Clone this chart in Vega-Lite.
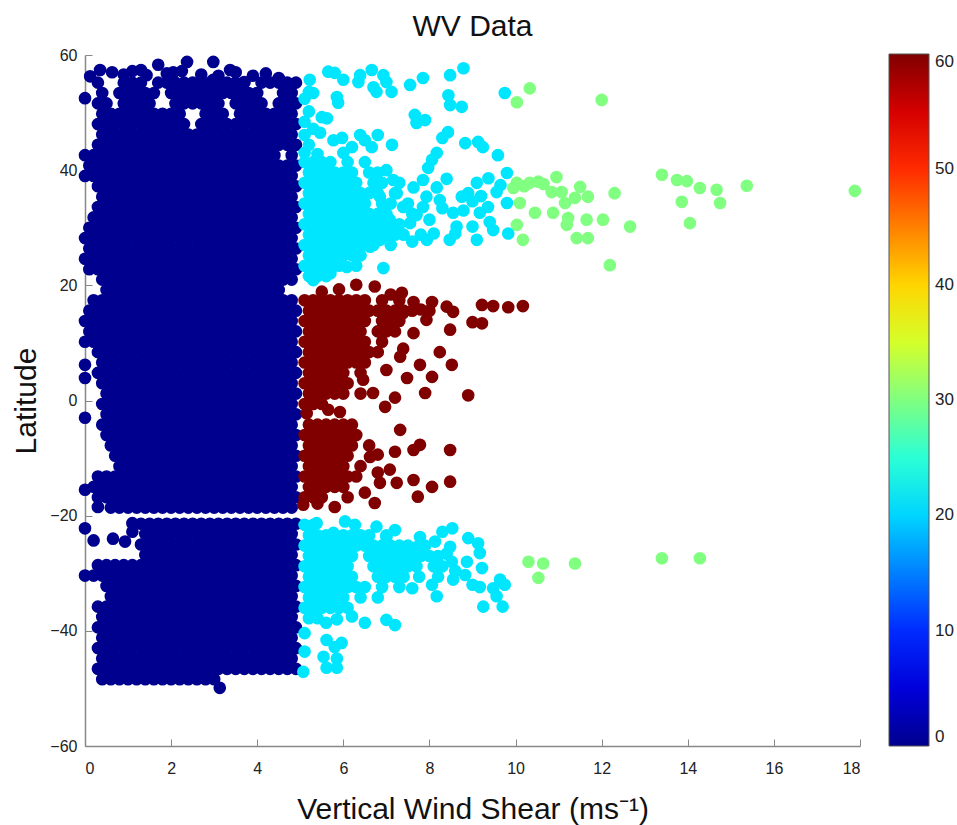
{
"$schema": "https://vega.github.io/schema/vega-lite/v6.json",
"width": 775,
"height": 691,
"autosize": {"type": "none"},
"padding": {"left": 85, "top": 55, "right": 97, "bottom": 79},
"background": "white",
"title": {"text": "WV Data", "fontSize": 30, "font": "Liberation Sans", "fontWeight": "normal", "color": "#111111", "offset": 5, "frame": "group"},
"config": {
  "view": {"stroke": null},
  "axis": {"domainColor": "#888888", "domainWidth": 1.5, "tickColor": "#888888", "tickSize": -7, "labelFont": "Liberation Sans", "labelFontSize": 16, "labelColor": "#222222", "titleFont": "Liberation Sans", "titleFontSize": 30, "titleFontWeight": "normal", "titleColor": "#111111", "grid": false}
},
"data": {"values": [
{"x":0.35,"y":57.4,"c":0},{"x":0.63,"y":57,"c":0},{"x":1.1,"y":57.2,"c":0},{"x":1.43,"y":56.5,"c":0},{"x":1.7,"y":58.3,"c":0},{"x":2.05,"y":57,"c":0},{"x":2.37,"y":58.8,"c":0},{"x":2.98,"y":58.8,"c":0},{"x":3.37,"y":57.4,"c":0},{"x":3.5,"y":57,"c":0},{"x":4.2,"y":56.8,"c":0},{"x":4.5,"y":56,"c":0},{"x":0.12,"y":56.3,"c":0},{"x":0.9,"y":56.6,"c":0},{"x":1.3,"y":57.4,"c":0},{"x":2.7,"y":56.6,"c":0},{"x":3.9,"y":56.4,"c":0},{"x":2.25,"y":57.2,"c":0},{"x":3.1,"y":56.4,"c":0},{"x":1.9,"y":56.8,"c":0},{"x":2.98,"y":55.7,"c":0},{"x":3.7,"y":55.3,"c":0},{"x":4.8,"y":54.8,"c":0},{"x":0,"y":52.5,"c":0},
{"x":0,"y":6.2,"c":0},{"x":0,"y":3.9,"c":0},{"x":0,"y":-3,"c":0},{"x":0,"y":-15.5,"c":0},{"x":0.3,"y":-18.5,"c":0},
{"x":0,"y":-22.2,"c":0},{"x":0.2,"y":-24.3,"c":0},{"x":0.65,"y":-24,"c":0},{"x":0.93,"y":-24.5,"c":0},{"x":1.1,"y":-22.8,"c":0},{"x":1.1,"y":-21.3,"c":0},{"x":3.13,"y":-49.9,"c":0},
{"x":0.3,"y":55.2,"c":0},{"x":0.9,"y":55.2,"c":0},{"x":1.1,"y":55.2,"c":0},{"x":1.3,"y":55.2,"c":0},{"x":1.7,"y":55.2,"c":0},{"x":1.9,"y":55.2,"c":0},{"x":2.1,"y":55.2,"c":0},{"x":2.3,"y":55.2,"c":0},{"x":2.5,"y":55.2,"c":0},{"x":2.7,"y":55.2,"c":0},{"x":2.9,"y":55.2,"c":0},{"x":3.1,"y":55.2,"c":0},{"x":3.3,"y":55.2,"c":0},{"x":3.5,"y":55.2,"c":0},{"x":3.7,"y":55.2,"c":0},{"x":4.1,"y":55.2,"c":0},{"x":4.3,"y":55.2,"c":0},{"x":4.5,"y":55.2,"c":0},{"x":4.7,"y":55.2,"c":0},{"x":4.9,"y":55.2,"c":0},
{"x":0.4,"y":53.4,"c":0},{"x":0.8,"y":53.4,"c":0},{"x":1,"y":53.4,"c":0},{"x":1.2,"y":53.4,"c":0},{"x":1.4,"y":53.4,"c":0},{"x":1.6,"y":53.4,"c":0},{"x":2,"y":53.4,"c":0},{"x":2.2,"y":53.4,"c":0},{"x":2.4,"y":53.4,"c":0},{"x":2.6,"y":53.4,"c":0},{"x":2.8,"y":53.4,"c":0},{"x":3,"y":53.4,"c":0},{"x":3.2,"y":53.4,"c":0},{"x":3.4,"y":53.4,"c":0},{"x":3.6,"y":53.4,"c":0},{"x":3.8,"y":53.4,"c":0},{"x":4,"y":53.4,"c":0},{"x":4.6,"y":53.4,"c":0},{"x":4.8,"y":53.4,"c":0},
{"x":0.3,"y":51.6,"c":0},{"x":0.5,"y":51.6,"c":0},{"x":0.9,"y":51.6,"c":0},{"x":1.1,"y":51.6,"c":0},{"x":1.3,"y":51.6,"c":0},{"x":1.5,"y":51.6,"c":0},{"x":2.1,"y":51.6,"c":0},{"x":2.3,"y":51.6,"c":0},{"x":2.5,"y":51.6,"c":0},{"x":2.7,"y":51.6,"c":0},{"x":2.9,"y":51.6,"c":0},{"x":3.1,"y":51.6,"c":0},{"x":3.5,"y":51.6,"c":0},{"x":3.7,"y":51.6,"c":0},{"x":3.9,"y":51.6,"c":0},{"x":4.1,"y":51.6,"c":0},{"x":4.5,"y":51.6,"c":0},{"x":4.7,"y":51.6,"c":0},{"x":4.9,"y":51.6,"c":0},
{"x":0.4,"y":49.8,"c":0},{"x":0.6,"y":49.8,"c":0},{"x":0.8,"y":49.8,"c":0},{"x":1,"y":49.8,"c":0},{"x":1.2,"y":49.8,"c":0},{"x":1.4,"y":49.8,"c":0},{"x":1.6,"y":49.8,"c":0},{"x":1.8,"y":49.8,"c":0},{"x":2,"y":49.8,"c":0},{"x":2.2,"y":49.8,"c":0},{"x":2.8,"y":49.8,"c":0},{"x":3,"y":49.8,"c":0},{"x":3.2,"y":49.8,"c":0},{"x":3.6,"y":49.8,"c":0},{"x":3.8,"y":49.8,"c":0},{"x":4,"y":49.8,"c":0},{"x":4.2,"y":49.8,"c":0},{"x":4.4,"y":49.8,"c":0},{"x":4.6,"y":49.8,"c":0},{"x":4.8,"y":49.8,"c":0},
{"x":0.3,"y":48,"c":0},{"x":0.5,"y":48,"c":0},{"x":0.7,"y":48,"c":0},{"x":0.9,"y":48,"c":0},{"x":1.1,"y":48,"c":0},{"x":1.3,"y":48,"c":0},{"x":1.5,"y":48,"c":0},{"x":1.7,"y":48,"c":0},{"x":1.9,"y":48,"c":0},{"x":2.1,"y":48,"c":0},{"x":2.3,"y":48,"c":0},{"x":2.7,"y":48,"c":0},{"x":2.9,"y":48,"c":0},{"x":3.1,"y":48,"c":0},{"x":3.3,"y":48,"c":0},{"x":3.5,"y":48,"c":0},{"x":3.7,"y":48,"c":0},{"x":3.9,"y":48,"c":0},{"x":4.1,"y":48,"c":0},{"x":4.3,"y":48,"c":0},{"x":4.5,"y":48,"c":0},{"x":4.7,"y":48,"c":0},{"x":4.9,"y":48,"c":0},
{"x":0.4,"y":46.2,"c":0},{"x":0.6,"y":46.2,"c":0},{"x":0.8,"y":46.2,"c":0},{"x":1,"y":46.2,"c":0},{"x":1.2,"y":46.2,"c":0},{"x":1.4,"y":46.2,"c":0},{"x":1.6,"y":46.2,"c":0},{"x":1.8,"y":46.2,"c":0},{"x":2,"y":46.2,"c":0},{"x":2.2,"y":46.2,"c":0},{"x":2.4,"y":46.2,"c":0},{"x":2.6,"y":46.2,"c":0},{"x":2.8,"y":46.2,"c":0},{"x":3,"y":46.2,"c":0},{"x":3.2,"y":46.2,"c":0},{"x":3.4,"y":46.2,"c":0},{"x":3.6,"y":46.2,"c":0},{"x":3.8,"y":46.2,"c":0},{"x":4,"y":46.2,"c":0},{"x":4.2,"y":46.2,"c":0},{"x":4.4,"y":46.2,"c":0},{"x":4.6,"y":46.2,"c":0},{"x":4.8,"y":46.2,"c":0},
{"x":0.3,"y":44.4,"c":0},{"x":0.5,"y":44.4,"c":0},{"x":0.7,"y":44.4,"c":0},{"x":0.9,"y":44.4,"c":0},{"x":1.1,"y":44.4,"c":0},{"x":1.3,"y":44.4,"c":0},{"x":1.5,"y":44.4,"c":0},{"x":1.7,"y":44.4,"c":0},{"x":1.9,"y":44.4,"c":0},{"x":2.1,"y":44.4,"c":0},{"x":2.3,"y":44.4,"c":0},{"x":2.5,"y":44.4,"c":0},{"x":2.7,"y":44.4,"c":0},{"x":2.9,"y":44.4,"c":0},{"x":3.1,"y":44.4,"c":0},{"x":3.3,"y":44.4,"c":0},{"x":3.5,"y":44.4,"c":0},{"x":3.7,"y":44.4,"c":0},{"x":3.9,"y":44.4,"c":0},{"x":4.1,"y":44.4,"c":0},{"x":4.3,"y":44.4,"c":0},{"x":4.5,"y":44.4,"c":0},{"x":4.7,"y":44.4,"c":0},{"x":4.9,"y":44.4,"c":0},
{"x":0,"y":42.6,"c":0},{"x":0.2,"y":42.6,"c":0},{"x":0.4,"y":42.6,"c":0},{"x":0.6,"y":42.6,"c":0},{"x":0.8,"y":42.6,"c":0},{"x":1,"y":42.6,"c":0},{"x":1.2,"y":42.6,"c":0},{"x":1.4,"y":42.6,"c":0},{"x":1.6,"y":42.6,"c":0},{"x":1.8,"y":42.6,"c":0},{"x":2,"y":42.6,"c":0},{"x":2.2,"y":42.6,"c":0},{"x":2.4,"y":42.6,"c":0},{"x":2.6,"y":42.6,"c":0},{"x":2.8,"y":42.6,"c":0},{"x":3,"y":42.6,"c":0},{"x":3.2,"y":42.6,"c":0},{"x":3.4,"y":42.6,"c":0},{"x":3.6,"y":42.6,"c":0},{"x":3.8,"y":42.6,"c":0},{"x":4,"y":42.6,"c":0},{"x":4.2,"y":42.6,"c":0},{"x":4.4,"y":42.6,"c":0},{"x":4.8,"y":42.6,"c":0},
{"x":0.1,"y":40.8,"c":0},{"x":0.3,"y":40.8,"c":0},{"x":0.5,"y":40.8,"c":0},{"x":0.7,"y":40.8,"c":0},{"x":0.9,"y":40.8,"c":0},{"x":1.1,"y":40.8,"c":0},{"x":1.3,"y":40.8,"c":0},{"x":1.5,"y":40.8,"c":0},{"x":1.7,"y":40.8,"c":0},{"x":1.9,"y":40.8,"c":0},{"x":2.1,"y":40.8,"c":0},{"x":2.3,"y":40.8,"c":0},{"x":2.5,"y":40.8,"c":0},{"x":2.7,"y":40.8,"c":0},{"x":2.9,"y":40.8,"c":0},{"x":3.1,"y":40.8,"c":0},{"x":3.3,"y":40.8,"c":0},{"x":3.5,"y":40.8,"c":0},{"x":3.7,"y":40.8,"c":0},{"x":3.9,"y":40.8,"c":0},{"x":4.1,"y":40.8,"c":0},{"x":4.3,"y":40.8,"c":0},{"x":4.5,"y":40.8,"c":0},{"x":4.7,"y":40.8,"c":0},{"x":4.9,"y":40.8,"c":0},
{"x":0,"y":39,"c":0},{"x":0.2,"y":39,"c":0},{"x":0.4,"y":39,"c":0},{"x":0.6,"y":39,"c":0},{"x":0.8,"y":39,"c":0},{"x":1,"y":39,"c":0},{"x":1.2,"y":39,"c":0},{"x":1.4,"y":39,"c":0},{"x":1.6,"y":39,"c":0},{"x":1.8,"y":39,"c":0},{"x":2,"y":39,"c":0},{"x":2.2,"y":39,"c":0},{"x":2.4,"y":39,"c":0},{"x":2.6,"y":39,"c":0},{"x":2.8,"y":39,"c":0},{"x":3,"y":39,"c":0},{"x":3.2,"y":39,"c":0},{"x":3.4,"y":39,"c":0},{"x":3.6,"y":39,"c":0},{"x":3.8,"y":39,"c":0},{"x":4,"y":39,"c":0},{"x":4.2,"y":39,"c":0},{"x":4.4,"y":39,"c":0},{"x":4.6,"y":39,"c":0},{"x":4.8,"y":39,"c":0},
{"x":0.3,"y":37.2,"c":0},{"x":0.5,"y":37.2,"c":0},{"x":0.7,"y":37.2,"c":0},{"x":0.9,"y":37.2,"c":0},{"x":1.1,"y":37.2,"c":0},{"x":1.3,"y":37.2,"c":0},{"x":1.5,"y":37.2,"c":0},{"x":1.7,"y":37.2,"c":0},{"x":1.9,"y":37.2,"c":0},{"x":2.1,"y":37.2,"c":0},{"x":2.3,"y":37.2,"c":0},{"x":2.5,"y":37.2,"c":0},{"x":2.7,"y":37.2,"c":0},{"x":2.9,"y":37.2,"c":0},{"x":3.1,"y":37.2,"c":0},{"x":3.3,"y":37.2,"c":0},{"x":3.5,"y":37.2,"c":0},{"x":3.7,"y":37.2,"c":0},{"x":3.9,"y":37.2,"c":0},{"x":4.1,"y":37.2,"c":0},{"x":4.3,"y":37.2,"c":0},{"x":4.5,"y":37.2,"c":0},{"x":4.7,"y":37.2,"c":0},{"x":4.9,"y":37.2,"c":0},
{"x":0.4,"y":35.4,"c":0},{"x":0.6,"y":35.4,"c":0},{"x":0.8,"y":35.4,"c":0},{"x":1,"y":35.4,"c":0},{"x":1.2,"y":35.4,"c":0},{"x":1.4,"y":35.4,"c":0},{"x":1.6,"y":35.4,"c":0},{"x":1.8,"y":35.4,"c":0},{"x":2,"y":35.4,"c":0},{"x":2.2,"y":35.4,"c":0},{"x":2.4,"y":35.4,"c":0},{"x":2.6,"y":35.4,"c":0},{"x":2.8,"y":35.4,"c":0},{"x":3,"y":35.4,"c":0},{"x":3.2,"y":35.4,"c":0},{"x":3.4,"y":35.4,"c":0},{"x":3.6,"y":35.4,"c":0},{"x":3.8,"y":35.4,"c":0},{"x":4,"y":35.4,"c":0},{"x":4.2,"y":35.4,"c":0},{"x":4.4,"y":35.4,"c":0},{"x":4.6,"y":35.4,"c":0},{"x":4.8,"y":35.4,"c":0},
{"x":0.3,"y":33.6,"c":0},{"x":0.5,"y":33.6,"c":0},{"x":0.7,"y":33.6,"c":0},{"x":0.9,"y":33.6,"c":0},{"x":1.1,"y":33.6,"c":0},{"x":1.3,"y":33.6,"c":0},{"x":1.5,"y":33.6,"c":0},{"x":1.7,"y":33.6,"c":0},{"x":1.9,"y":33.6,"c":0},{"x":2.1,"y":33.6,"c":0},{"x":2.3,"y":33.6,"c":0},{"x":2.5,"y":33.6,"c":0},{"x":2.7,"y":33.6,"c":0},{"x":2.9,"y":33.6,"c":0},{"x":3.1,"y":33.6,"c":0},{"x":3.3,"y":33.6,"c":0},{"x":3.5,"y":33.6,"c":0},{"x":3.7,"y":33.6,"c":0},{"x":3.9,"y":33.6,"c":0},{"x":4.1,"y":33.6,"c":0},{"x":4.3,"y":33.6,"c":0},{"x":4.5,"y":33.6,"c":0},{"x":4.7,"y":33.6,"c":0},{"x":4.9,"y":33.6,"c":0},
{"x":0.2,"y":31.8,"c":0},{"x":0.4,"y":31.8,"c":0},{"x":0.6,"y":31.8,"c":0},{"x":0.8,"y":31.8,"c":0},{"x":1,"y":31.8,"c":0},{"x":1.2,"y":31.8,"c":0},{"x":1.4,"y":31.8,"c":0},{"x":1.6,"y":31.8,"c":0},{"x":1.8,"y":31.8,"c":0},{"x":2,"y":31.8,"c":0},{"x":2.2,"y":31.8,"c":0},{"x":2.4,"y":31.8,"c":0},{"x":2.6,"y":31.8,"c":0},{"x":2.8,"y":31.8,"c":0},{"x":3,"y":31.8,"c":0},{"x":3.2,"y":31.8,"c":0},{"x":3.4,"y":31.8,"c":0},{"x":3.6,"y":31.8,"c":0},{"x":3.8,"y":31.8,"c":0},{"x":4,"y":31.8,"c":0},{"x":4.2,"y":31.8,"c":0},{"x":4.4,"y":31.8,"c":0},{"x":4.6,"y":31.8,"c":0},{"x":4.8,"y":31.8,"c":0},
{"x":0.1,"y":30,"c":0},{"x":0.3,"y":30,"c":0},{"x":0.5,"y":30,"c":0},{"x":0.7,"y":30,"c":0},{"x":0.9,"y":30,"c":0},{"x":1.1,"y":30,"c":0},{"x":1.3,"y":30,"c":0},{"x":1.5,"y":30,"c":0},{"x":1.7,"y":30,"c":0},{"x":1.9,"y":30,"c":0},{"x":2.1,"y":30,"c":0},{"x":2.3,"y":30,"c":0},{"x":2.5,"y":30,"c":0},{"x":2.7,"y":30,"c":0},{"x":2.9,"y":30,"c":0},{"x":3.1,"y":30,"c":0},{"x":3.3,"y":30,"c":0},{"x":3.5,"y":30,"c":0},{"x":3.7,"y":30,"c":0},{"x":3.9,"y":30,"c":0},{"x":4.1,"y":30,"c":0},{"x":4.3,"y":30,"c":0},{"x":4.5,"y":30,"c":0},{"x":4.7,"y":30,"c":0},{"x":4.9,"y":30,"c":0},
{"x":0,"y":28.2,"c":0},{"x":0.2,"y":28.2,"c":0},{"x":0.4,"y":28.2,"c":0},{"x":0.6,"y":28.2,"c":0},{"x":0.8,"y":28.2,"c":0},{"x":1,"y":28.2,"c":0},{"x":1.2,"y":28.2,"c":0},{"x":1.4,"y":28.2,"c":0},{"x":1.6,"y":28.2,"c":0},{"x":1.8,"y":28.2,"c":0},{"x":2,"y":28.2,"c":0},{"x":2.2,"y":28.2,"c":0},{"x":2.4,"y":28.2,"c":0},{"x":2.6,"y":28.2,"c":0},{"x":2.8,"y":28.2,"c":0},{"x":3,"y":28.2,"c":0},{"x":3.2,"y":28.2,"c":0},{"x":3.4,"y":28.2,"c":0},{"x":3.6,"y":28.2,"c":0},{"x":3.8,"y":28.2,"c":0},{"x":4,"y":28.2,"c":0},{"x":4.2,"y":28.2,"c":0},{"x":4.4,"y":28.2,"c":0},{"x":4.6,"y":28.2,"c":0},{"x":4.8,"y":28.2,"c":0},
{"x":0.1,"y":26.4,"c":0},{"x":0.3,"y":26.4,"c":0},{"x":0.5,"y":26.4,"c":0},{"x":0.7,"y":26.4,"c":0},{"x":0.9,"y":26.4,"c":0},{"x":1.1,"y":26.4,"c":0},{"x":1.3,"y":26.4,"c":0},{"x":1.5,"y":26.4,"c":0},{"x":1.7,"y":26.4,"c":0},{"x":1.9,"y":26.4,"c":0},{"x":2.1,"y":26.4,"c":0},{"x":2.3,"y":26.4,"c":0},{"x":2.5,"y":26.4,"c":0},{"x":2.7,"y":26.4,"c":0},{"x":2.9,"y":26.4,"c":0},{"x":3.1,"y":26.4,"c":0},{"x":3.3,"y":26.4,"c":0},{"x":3.5,"y":26.4,"c":0},{"x":3.7,"y":26.4,"c":0},{"x":3.9,"y":26.4,"c":0},{"x":4.1,"y":26.4,"c":0},{"x":4.3,"y":26.4,"c":0},{"x":4.5,"y":26.4,"c":0},{"x":4.7,"y":26.4,"c":0},{"x":4.9,"y":26.4,"c":0},
{"x":0,"y":24.6,"c":0},{"x":0.2,"y":24.6,"c":0},{"x":0.4,"y":24.6,"c":0},{"x":0.6,"y":24.6,"c":0},{"x":0.8,"y":24.6,"c":0},{"x":1,"y":24.6,"c":0},{"x":1.2,"y":24.6,"c":0},{"x":1.4,"y":24.6,"c":0},{"x":1.6,"y":24.6,"c":0},{"x":1.8,"y":24.6,"c":0},{"x":2,"y":24.6,"c":0},{"x":2.2,"y":24.6,"c":0},{"x":2.4,"y":24.6,"c":0},{"x":2.6,"y":24.6,"c":0},{"x":2.8,"y":24.6,"c":0},{"x":3,"y":24.6,"c":0},{"x":3.2,"y":24.6,"c":0},{"x":3.4,"y":24.6,"c":0},{"x":3.6,"y":24.6,"c":0},{"x":3.8,"y":24.6,"c":0},{"x":4,"y":24.6,"c":0},{"x":4.2,"y":24.6,"c":0},{"x":4.4,"y":24.6,"c":0},{"x":4.6,"y":24.6,"c":0},{"x":4.8,"y":24.6,"c":0},
{"x":0.1,"y":22.8,"c":0},{"x":0.3,"y":22.8,"c":0},{"x":0.5,"y":22.8,"c":0},{"x":0.7,"y":22.8,"c":0},{"x":0.9,"y":22.8,"c":0},{"x":1.1,"y":22.8,"c":0},{"x":1.3,"y":22.8,"c":0},{"x":1.5,"y":22.8,"c":0},{"x":1.7,"y":22.8,"c":0},{"x":1.9,"y":22.8,"c":0},{"x":2.1,"y":22.8,"c":0},{"x":2.3,"y":22.8,"c":0},{"x":2.5,"y":22.8,"c":0},{"x":2.7,"y":22.8,"c":0},{"x":2.9,"y":22.8,"c":0},{"x":3.1,"y":22.8,"c":0},{"x":3.3,"y":22.8,"c":0},{"x":3.5,"y":22.8,"c":0},{"x":3.7,"y":22.8,"c":0},{"x":3.9,"y":22.8,"c":0},{"x":4.1,"y":22.8,"c":0},{"x":4.3,"y":22.8,"c":0},{"x":4.5,"y":22.8,"c":0},{"x":4.7,"y":22.8,"c":0},{"x":4.9,"y":22.8,"c":0},
{"x":0.4,"y":21,"c":0},{"x":0.6,"y":21,"c":0},{"x":0.8,"y":21,"c":0},{"x":1,"y":21,"c":0},{"x":1.2,"y":21,"c":0},{"x":1.4,"y":21,"c":0},{"x":1.6,"y":21,"c":0},{"x":1.8,"y":21,"c":0},{"x":2,"y":21,"c":0},{"x":2.2,"y":21,"c":0},{"x":2.4,"y":21,"c":0},{"x":2.6,"y":21,"c":0},{"x":2.8,"y":21,"c":0},{"x":3,"y":21,"c":0},{"x":3.2,"y":21,"c":0},{"x":3.4,"y":21,"c":0},{"x":3.6,"y":21,"c":0},{"x":3.8,"y":21,"c":0},{"x":4,"y":21,"c":0},{"x":4.2,"y":21,"c":0},{"x":4.4,"y":21,"c":0},{"x":4.6,"y":21,"c":0},{"x":4.8,"y":21,"c":0},
{"x":0.5,"y":19.2,"c":0},{"x":0.7,"y":19.2,"c":0},{"x":0.9,"y":19.2,"c":0},{"x":1.1,"y":19.2,"c":0},{"x":1.3,"y":19.2,"c":0},{"x":1.5,"y":19.2,"c":0},{"x":1.7,"y":19.2,"c":0},{"x":1.9,"y":19.2,"c":0},{"x":2.1,"y":19.2,"c":0},{"x":2.3,"y":19.2,"c":0},{"x":2.5,"y":19.2,"c":0},{"x":2.7,"y":19.2,"c":0},{"x":2.9,"y":19.2,"c":0},{"x":3.1,"y":19.2,"c":0},{"x":3.3,"y":19.2,"c":0},{"x":3.5,"y":19.2,"c":0},{"x":3.7,"y":19.2,"c":0},{"x":3.9,"y":19.2,"c":0},{"x":4.1,"y":19.2,"c":0},{"x":4.3,"y":19.2,"c":0},{"x":4.5,"y":19.2,"c":0},
{"x":0.2,"y":17.4,"c":0},{"x":0.4,"y":17.4,"c":0},{"x":0.6,"y":17.4,"c":0},{"x":0.8,"y":17.4,"c":0},{"x":1,"y":17.4,"c":0},{"x":1.2,"y":17.4,"c":0},{"x":1.4,"y":17.4,"c":0},{"x":1.6,"y":17.4,"c":0},{"x":1.8,"y":17.4,"c":0},{"x":2,"y":17.4,"c":0},{"x":2.2,"y":17.4,"c":0},{"x":2.4,"y":17.4,"c":0},{"x":2.6,"y":17.4,"c":0},{"x":2.8,"y":17.4,"c":0},{"x":3,"y":17.4,"c":0},{"x":3.2,"y":17.4,"c":0},{"x":3.4,"y":17.4,"c":0},{"x":3.6,"y":17.4,"c":0},{"x":3.8,"y":17.4,"c":0},{"x":4,"y":17.4,"c":0},{"x":4.2,"y":17.4,"c":0},{"x":4.4,"y":17.4,"c":0},{"x":4.6,"y":17.4,"c":0},{"x":4.8,"y":17.4,"c":0},
{"x":0.1,"y":15.6,"c":0},{"x":0.3,"y":15.6,"c":0},{"x":0.5,"y":15.6,"c":0},{"x":0.7,"y":15.6,"c":0},{"x":0.9,"y":15.6,"c":0},{"x":1.1,"y":15.6,"c":0},{"x":1.3,"y":15.6,"c":0},{"x":1.5,"y":15.6,"c":0},{"x":1.7,"y":15.6,"c":0},{"x":1.9,"y":15.6,"c":0},{"x":2.1,"y":15.6,"c":0},{"x":2.3,"y":15.6,"c":0},{"x":2.5,"y":15.6,"c":0},{"x":2.7,"y":15.6,"c":0},{"x":2.9,"y":15.6,"c":0},{"x":3.1,"y":15.6,"c":0},{"x":3.3,"y":15.6,"c":0},{"x":3.5,"y":15.6,"c":0},{"x":3.7,"y":15.6,"c":0},{"x":3.9,"y":15.6,"c":0},{"x":4.1,"y":15.6,"c":0},{"x":4.3,"y":15.6,"c":0},{"x":4.5,"y":15.6,"c":0},{"x":4.7,"y":15.6,"c":0},{"x":4.9,"y":15.6,"c":0},
{"x":0,"y":13.8,"c":0},{"x":0.2,"y":13.8,"c":0},{"x":0.4,"y":13.8,"c":0},{"x":0.6,"y":13.8,"c":0},{"x":0.8,"y":13.8,"c":0},{"x":1,"y":13.8,"c":0},{"x":1.2,"y":13.8,"c":0},{"x":1.4,"y":13.8,"c":0},{"x":1.6,"y":13.8,"c":0},{"x":1.8,"y":13.8,"c":0},{"x":2,"y":13.8,"c":0},{"x":2.2,"y":13.8,"c":0},{"x":2.4,"y":13.8,"c":0},{"x":2.6,"y":13.8,"c":0},{"x":2.8,"y":13.8,"c":0},{"x":3,"y":13.8,"c":0},{"x":3.2,"y":13.8,"c":0},{"x":3.4,"y":13.8,"c":0},{"x":3.6,"y":13.8,"c":0},{"x":3.8,"y":13.8,"c":0},{"x":4,"y":13.8,"c":0},{"x":4.2,"y":13.8,"c":0},{"x":4.4,"y":13.8,"c":0},{"x":4.6,"y":13.8,"c":0},{"x":4.8,"y":13.8,"c":0},
{"x":0.1,"y":12,"c":0},{"x":0.3,"y":12,"c":0},{"x":0.5,"y":12,"c":0},{"x":0.7,"y":12,"c":0},{"x":0.9,"y":12,"c":0},{"x":1.1,"y":12,"c":0},{"x":1.3,"y":12,"c":0},{"x":1.5,"y":12,"c":0},{"x":1.7,"y":12,"c":0},{"x":1.9,"y":12,"c":0},{"x":2.1,"y":12,"c":0},{"x":2.3,"y":12,"c":0},{"x":2.5,"y":12,"c":0},{"x":2.7,"y":12,"c":0},{"x":2.9,"y":12,"c":0},{"x":3.1,"y":12,"c":0},{"x":3.3,"y":12,"c":0},{"x":3.5,"y":12,"c":0},{"x":3.7,"y":12,"c":0},{"x":3.9,"y":12,"c":0},{"x":4.1,"y":12,"c":0},{"x":4.3,"y":12,"c":0},{"x":4.5,"y":12,"c":0},{"x":4.7,"y":12,"c":0},{"x":4.9,"y":12,"c":0},
{"x":0,"y":10.2,"c":0},{"x":0.2,"y":10.2,"c":0},{"x":0.4,"y":10.2,"c":0},{"x":0.6,"y":10.2,"c":0},{"x":0.8,"y":10.2,"c":0},{"x":1,"y":10.2,"c":0},{"x":1.2,"y":10.2,"c":0},{"x":1.4,"y":10.2,"c":0},{"x":1.6,"y":10.2,"c":0},{"x":1.8,"y":10.2,"c":0},{"x":2,"y":10.2,"c":0},{"x":2.2,"y":10.2,"c":0},{"x":2.4,"y":10.2,"c":0},{"x":2.6,"y":10.2,"c":0},{"x":2.8,"y":10.2,"c":0},{"x":3,"y":10.2,"c":0},{"x":3.2,"y":10.2,"c":0},{"x":3.4,"y":10.2,"c":0},{"x":3.6,"y":10.2,"c":0},{"x":3.8,"y":10.2,"c":0},{"x":4,"y":10.2,"c":0},{"x":4.2,"y":10.2,"c":0},{"x":4.4,"y":10.2,"c":0},{"x":4.6,"y":10.2,"c":0},{"x":4.8,"y":10.2,"c":0},
{"x":0.3,"y":8.4,"c":0},{"x":0.5,"y":8.4,"c":0},{"x":0.7,"y":8.4,"c":0},{"x":0.9,"y":8.4,"c":0},{"x":1.1,"y":8.4,"c":0},{"x":1.3,"y":8.4,"c":0},{"x":1.5,"y":8.4,"c":0},{"x":1.7,"y":8.4,"c":0},{"x":1.9,"y":8.4,"c":0},{"x":2.1,"y":8.4,"c":0},{"x":2.3,"y":8.4,"c":0},{"x":2.5,"y":8.4,"c":0},{"x":2.7,"y":8.4,"c":0},{"x":2.9,"y":8.4,"c":0},{"x":3.1,"y":8.4,"c":0},{"x":3.3,"y":8.4,"c":0},{"x":3.5,"y":8.4,"c":0},{"x":3.7,"y":8.4,"c":0},{"x":3.9,"y":8.4,"c":0},{"x":4.1,"y":8.4,"c":0},{"x":4.3,"y":8.4,"c":0},{"x":4.5,"y":8.4,"c":0},{"x":4.7,"y":8.4,"c":0},{"x":4.9,"y":8.4,"c":0},
{"x":0.4,"y":6.6,"c":0},{"x":0.6,"y":6.6,"c":0},{"x":0.8,"y":6.6,"c":0},{"x":1,"y":6.6,"c":0},{"x":1.2,"y":6.6,"c":0},{"x":1.4,"y":6.6,"c":0},{"x":1.6,"y":6.6,"c":0},{"x":1.8,"y":6.6,"c":0},{"x":2,"y":6.6,"c":0},{"x":2.2,"y":6.6,"c":0},{"x":2.4,"y":6.6,"c":0},{"x":2.6,"y":6.6,"c":0},{"x":2.8,"y":6.6,"c":0},{"x":3,"y":6.6,"c":0},{"x":3.2,"y":6.6,"c":0},{"x":3.4,"y":6.6,"c":0},{"x":3.6,"y":6.6,"c":0},{"x":3.8,"y":6.6,"c":0},{"x":4,"y":6.6,"c":0},{"x":4.2,"y":6.6,"c":0},{"x":4.4,"y":6.6,"c":0},{"x":4.6,"y":6.6,"c":0},{"x":4.8,"y":6.6,"c":0},
{"x":0.3,"y":4.8,"c":0},{"x":0.5,"y":4.8,"c":0},{"x":0.7,"y":4.8,"c":0},{"x":0.9,"y":4.8,"c":0},{"x":1.1,"y":4.8,"c":0},{"x":1.3,"y":4.8,"c":0},{"x":1.5,"y":4.8,"c":0},{"x":1.7,"y":4.8,"c":0},{"x":1.9,"y":4.8,"c":0},{"x":2.1,"y":4.8,"c":0},{"x":2.3,"y":4.8,"c":0},{"x":2.5,"y":4.8,"c":0},{"x":2.7,"y":4.8,"c":0},{"x":2.9,"y":4.8,"c":0},{"x":3.1,"y":4.8,"c":0},{"x":3.3,"y":4.8,"c":0},{"x":3.5,"y":4.8,"c":0},{"x":3.7,"y":4.8,"c":0},{"x":3.9,"y":4.8,"c":0},{"x":4.1,"y":4.8,"c":0},{"x":4.3,"y":4.8,"c":0},{"x":4.5,"y":4.8,"c":0},{"x":4.7,"y":4.8,"c":0},{"x":4.9,"y":4.8,"c":0},
{"x":0.4,"y":3,"c":0},{"x":0.6,"y":3,"c":0},{"x":0.8,"y":3,"c":0},{"x":1,"y":3,"c":0},{"x":1.2,"y":3,"c":0},{"x":1.4,"y":3,"c":0},{"x":1.6,"y":3,"c":0},{"x":1.8,"y":3,"c":0},{"x":2,"y":3,"c":0},{"x":2.2,"y":3,"c":0},{"x":2.4,"y":3,"c":0},{"x":2.6,"y":3,"c":0},{"x":2.8,"y":3,"c":0},{"x":3,"y":3,"c":0},{"x":3.2,"y":3,"c":0},{"x":3.4,"y":3,"c":0},{"x":3.6,"y":3,"c":0},{"x":3.8,"y":3,"c":0},{"x":4,"y":3,"c":0},{"x":4.2,"y":3,"c":0},{"x":4.4,"y":3,"c":0},{"x":4.6,"y":3,"c":0},{"x":4.8,"y":3,"c":0},
{"x":0.5,"y":1.2,"c":0},{"x":0.7,"y":1.2,"c":0},{"x":0.9,"y":1.2,"c":0},{"x":1.1,"y":1.2,"c":0},{"x":1.3,"y":1.2,"c":0},{"x":1.5,"y":1.2,"c":0},{"x":1.7,"y":1.2,"c":0},{"x":1.9,"y":1.2,"c":0},{"x":2.1,"y":1.2,"c":0},{"x":2.3,"y":1.2,"c":0},{"x":2.5,"y":1.2,"c":0},{"x":2.7,"y":1.2,"c":0},{"x":2.9,"y":1.2,"c":0},{"x":3.1,"y":1.2,"c":0},{"x":3.3,"y":1.2,"c":0},{"x":3.5,"y":1.2,"c":0},{"x":3.7,"y":1.2,"c":0},{"x":3.9,"y":1.2,"c":0},{"x":4.1,"y":1.2,"c":0},{"x":4.3,"y":1.2,"c":0},{"x":4.5,"y":1.2,"c":0},{"x":4.7,"y":1.2,"c":0},{"x":4.9,"y":1.2,"c":0},
{"x":0.4,"y":-0.6,"c":0},{"x":0.6,"y":-0.6,"c":0},{"x":0.8,"y":-0.6,"c":0},{"x":1,"y":-0.6,"c":0},{"x":1.2,"y":-0.6,"c":0},{"x":1.4,"y":-0.6,"c":0},{"x":1.6,"y":-0.6,"c":0},{"x":1.8,"y":-0.6,"c":0},{"x":2,"y":-0.6,"c":0},{"x":2.2,"y":-0.6,"c":0},{"x":2.4,"y":-0.6,"c":0},{"x":2.6,"y":-0.6,"c":0},{"x":2.8,"y":-0.6,"c":0},{"x":3,"y":-0.6,"c":0},{"x":3.2,"y":-0.6,"c":0},{"x":3.4,"y":-0.6,"c":0},{"x":3.6,"y":-0.6,"c":0},{"x":3.8,"y":-0.6,"c":0},{"x":4,"y":-0.6,"c":0},{"x":4.2,"y":-0.6,"c":0},{"x":4.4,"y":-0.6,"c":0},{"x":4.6,"y":-0.6,"c":0},{"x":4.8,"y":-0.6,"c":0},
{"x":0.5,"y":-2.4,"c":0},{"x":0.7,"y":-2.4,"c":0},{"x":0.9,"y":-2.4,"c":0},{"x":1.1,"y":-2.4,"c":0},{"x":1.3,"y":-2.4,"c":0},{"x":1.5,"y":-2.4,"c":0},{"x":1.7,"y":-2.4,"c":0},{"x":1.9,"y":-2.4,"c":0},{"x":2.1,"y":-2.4,"c":0},{"x":2.3,"y":-2.4,"c":0},{"x":2.5,"y":-2.4,"c":0},{"x":2.7,"y":-2.4,"c":0},{"x":2.9,"y":-2.4,"c":0},{"x":3.1,"y":-2.4,"c":0},{"x":3.3,"y":-2.4,"c":0},{"x":3.5,"y":-2.4,"c":0},{"x":3.7,"y":-2.4,"c":0},{"x":3.9,"y":-2.4,"c":0},{"x":4.1,"y":-2.4,"c":0},{"x":4.3,"y":-2.4,"c":0},{"x":4.5,"y":-2.4,"c":0},{"x":4.7,"y":-2.4,"c":0},{"x":4.9,"y":-2.4,"c":0},
{"x":0.4,"y":-4.2,"c":0},{"x":0.6,"y":-4.2,"c":0},{"x":0.8,"y":-4.2,"c":0},{"x":1,"y":-4.2,"c":0},{"x":1.2,"y":-4.2,"c":0},{"x":1.4,"y":-4.2,"c":0},{"x":1.6,"y":-4.2,"c":0},{"x":1.8,"y":-4.2,"c":0},{"x":2,"y":-4.2,"c":0},{"x":2.2,"y":-4.2,"c":0},{"x":2.4,"y":-4.2,"c":0},{"x":2.6,"y":-4.2,"c":0},{"x":2.8,"y":-4.2,"c":0},{"x":3,"y":-4.2,"c":0},{"x":3.2,"y":-4.2,"c":0},{"x":3.4,"y":-4.2,"c":0},{"x":3.6,"y":-4.2,"c":0},{"x":3.8,"y":-4.2,"c":0},{"x":4,"y":-4.2,"c":0},{"x":4.2,"y":-4.2,"c":0},{"x":4.4,"y":-4.2,"c":0},{"x":4.6,"y":-4.2,"c":0},{"x":4.8,"y":-4.2,"c":0},
{"x":0.5,"y":-6,"c":0},{"x":0.7,"y":-6,"c":0},{"x":0.9,"y":-6,"c":0},{"x":1.1,"y":-6,"c":0},{"x":1.3,"y":-6,"c":0},{"x":1.5,"y":-6,"c":0},{"x":1.7,"y":-6,"c":0},{"x":1.9,"y":-6,"c":0},{"x":2.1,"y":-6,"c":0},{"x":2.3,"y":-6,"c":0},{"x":2.5,"y":-6,"c":0},{"x":2.7,"y":-6,"c":0},{"x":2.9,"y":-6,"c":0},{"x":3.1,"y":-6,"c":0},{"x":3.3,"y":-6,"c":0},{"x":3.5,"y":-6,"c":0},{"x":3.7,"y":-6,"c":0},{"x":3.9,"y":-6,"c":0},{"x":4.1,"y":-6,"c":0},{"x":4.3,"y":-6,"c":0},{"x":4.5,"y":-6,"c":0},{"x":4.7,"y":-6,"c":0},{"x":4.9,"y":-6,"c":0},
{"x":0.6,"y":-7.8,"c":0},{"x":0.8,"y":-7.8,"c":0},{"x":1,"y":-7.8,"c":0},{"x":1.2,"y":-7.8,"c":0},{"x":1.4,"y":-7.8,"c":0},{"x":1.6,"y":-7.8,"c":0},{"x":1.8,"y":-7.8,"c":0},{"x":2,"y":-7.8,"c":0},{"x":2.2,"y":-7.8,"c":0},{"x":2.4,"y":-7.8,"c":0},{"x":2.6,"y":-7.8,"c":0},{"x":2.8,"y":-7.8,"c":0},{"x":3,"y":-7.8,"c":0},{"x":3.2,"y":-7.8,"c":0},{"x":3.4,"y":-7.8,"c":0},{"x":3.6,"y":-7.8,"c":0},{"x":3.8,"y":-7.8,"c":0},{"x":4,"y":-7.8,"c":0},{"x":4.2,"y":-7.8,"c":0},{"x":4.4,"y":-7.8,"c":0},{"x":4.6,"y":-7.8,"c":0},{"x":4.8,"y":-7.8,"c":0},
{"x":0.7,"y":-9.6,"c":0},{"x":0.9,"y":-9.6,"c":0},{"x":1.1,"y":-9.6,"c":0},{"x":1.3,"y":-9.6,"c":0},{"x":1.5,"y":-9.6,"c":0},{"x":1.7,"y":-9.6,"c":0},{"x":1.9,"y":-9.6,"c":0},{"x":2.1,"y":-9.6,"c":0},{"x":2.3,"y":-9.6,"c":0},{"x":2.5,"y":-9.6,"c":0},{"x":2.7,"y":-9.6,"c":0},{"x":2.9,"y":-9.6,"c":0},{"x":3.1,"y":-9.6,"c":0},{"x":3.3,"y":-9.6,"c":0},{"x":3.5,"y":-9.6,"c":0},{"x":3.7,"y":-9.6,"c":0},{"x":3.9,"y":-9.6,"c":0},{"x":4.1,"y":-9.6,"c":0},{"x":4.3,"y":-9.6,"c":0},{"x":4.5,"y":-9.6,"c":0},{"x":4.7,"y":-9.6,"c":0},{"x":4.9,"y":-9.6,"c":0},
{"x":0.8,"y":-11.4,"c":0},{"x":1,"y":-11.4,"c":0},{"x":1.2,"y":-11.4,"c":0},{"x":1.4,"y":-11.4,"c":0},{"x":1.6,"y":-11.4,"c":0},{"x":1.8,"y":-11.4,"c":0},{"x":2,"y":-11.4,"c":0},{"x":2.2,"y":-11.4,"c":0},{"x":2.4,"y":-11.4,"c":0},{"x":2.6,"y":-11.4,"c":0},{"x":2.8,"y":-11.4,"c":0},{"x":3,"y":-11.4,"c":0},{"x":3.2,"y":-11.4,"c":0},{"x":3.4,"y":-11.4,"c":0},{"x":3.6,"y":-11.4,"c":0},{"x":3.8,"y":-11.4,"c":0},{"x":4,"y":-11.4,"c":0},{"x":4.2,"y":-11.4,"c":0},{"x":4.4,"y":-11.4,"c":0},{"x":4.6,"y":-11.4,"c":0},{"x":4.8,"y":-11.4,"c":0},
{"x":0.3,"y":-13.2,"c":0},{"x":0.5,"y":-13.2,"c":0},{"x":0.7,"y":-13.2,"c":0},{"x":0.9,"y":-13.2,"c":0},{"x":1.1,"y":-13.2,"c":0},{"x":1.3,"y":-13.2,"c":0},{"x":1.5,"y":-13.2,"c":0},{"x":1.7,"y":-13.2,"c":0},{"x":1.9,"y":-13.2,"c":0},{"x":2.1,"y":-13.2,"c":0},{"x":2.3,"y":-13.2,"c":0},{"x":2.5,"y":-13.2,"c":0},{"x":2.7,"y":-13.2,"c":0},{"x":2.9,"y":-13.2,"c":0},{"x":3.1,"y":-13.2,"c":0},{"x":3.3,"y":-13.2,"c":0},{"x":3.5,"y":-13.2,"c":0},{"x":3.7,"y":-13.2,"c":0},{"x":3.9,"y":-13.2,"c":0},{"x":4.1,"y":-13.2,"c":0},{"x":4.3,"y":-13.2,"c":0},{"x":4.5,"y":-13.2,"c":0},{"x":4.7,"y":-13.2,"c":0},{"x":4.9,"y":-13.2,"c":0},
{"x":0.2,"y":-15,"c":0},{"x":0.4,"y":-15,"c":0},{"x":0.6,"y":-15,"c":0},{"x":0.8,"y":-15,"c":0},{"x":1,"y":-15,"c":0},{"x":1.2,"y":-15,"c":0},{"x":1.4,"y":-15,"c":0},{"x":1.6,"y":-15,"c":0},{"x":1.8,"y":-15,"c":0},{"x":2,"y":-15,"c":0},{"x":2.2,"y":-15,"c":0},{"x":2.4,"y":-15,"c":0},{"x":2.6,"y":-15,"c":0},{"x":2.8,"y":-15,"c":0},{"x":3,"y":-15,"c":0},{"x":3.2,"y":-15,"c":0},{"x":3.4,"y":-15,"c":0},{"x":3.6,"y":-15,"c":0},{"x":3.8,"y":-15,"c":0},{"x":4,"y":-15,"c":0},{"x":4.2,"y":-15,"c":0},{"x":4.4,"y":-15,"c":0},{"x":4.6,"y":-15,"c":0},{"x":4.8,"y":-15,"c":0},
{"x":0.3,"y":-16.8,"c":0},{"x":0.5,"y":-16.8,"c":0},{"x":0.7,"y":-16.8,"c":0},{"x":0.9,"y":-16.8,"c":0},{"x":1.1,"y":-16.8,"c":0},{"x":1.3,"y":-16.8,"c":0},{"x":1.5,"y":-16.8,"c":0},{"x":1.7,"y":-16.8,"c":0},{"x":1.9,"y":-16.8,"c":0},{"x":2.1,"y":-16.8,"c":0},{"x":2.3,"y":-16.8,"c":0},{"x":2.5,"y":-16.8,"c":0},{"x":2.7,"y":-16.8,"c":0},{"x":2.9,"y":-16.8,"c":0},{"x":3.1,"y":-16.8,"c":0},{"x":3.3,"y":-16.8,"c":0},{"x":3.5,"y":-16.8,"c":0},{"x":3.7,"y":-16.8,"c":0},{"x":3.9,"y":-16.8,"c":0},{"x":4.1,"y":-16.8,"c":0},{"x":4.3,"y":-16.8,"c":0},{"x":4.5,"y":-16.8,"c":0},{"x":4.7,"y":-16.8,"c":0},{"x":4.9,"y":-16.8,"c":0},
{"x":0.6,"y":-18.6,"c":0},{"x":0.8,"y":-18.6,"c":0},{"x":1,"y":-18.6,"c":0},{"x":1.2,"y":-18.6,"c":0},{"x":1.4,"y":-18.6,"c":0},{"x":1.6,"y":-18.6,"c":0},{"x":1.8,"y":-18.6,"c":0},{"x":2,"y":-18.6,"c":0},{"x":2.2,"y":-18.6,"c":0},{"x":2.4,"y":-18.6,"c":0},{"x":2.6,"y":-18.6,"c":0},{"x":2.8,"y":-18.6,"c":0},{"x":3,"y":-18.6,"c":0},{"x":3.2,"y":-18.6,"c":0},{"x":3.4,"y":-18.6,"c":0},{"x":3.6,"y":-18.6,"c":0},{"x":3.8,"y":-18.6,"c":0},{"x":4,"y":-18.6,"c":0},{"x":4.2,"y":-18.6,"c":0},{"x":4.4,"y":-18.6,"c":0},{"x":4.6,"y":-18.6,"c":0},{"x":4.8,"y":-18.6,"c":0},
{"x":1.3,"y":-21.4,"c":0},{"x":1.5,"y":-21.4,"c":0},{"x":1.7,"y":-21.4,"c":0},{"x":1.9,"y":-21.4,"c":0},{"x":2.1,"y":-21.4,"c":0},{"x":2.3,"y":-21.4,"c":0},{"x":2.5,"y":-21.4,"c":0},{"x":2.7,"y":-21.4,"c":0},{"x":2.9,"y":-21.4,"c":0},{"x":3.1,"y":-21.4,"c":0},{"x":3.3,"y":-21.4,"c":0},{"x":3.5,"y":-21.4,"c":0},{"x":3.7,"y":-21.4,"c":0},{"x":3.9,"y":-21.4,"c":0},{"x":4.1,"y":-21.4,"c":0},{"x":4.3,"y":-21.4,"c":0},{"x":4.5,"y":-21.4,"c":0},{"x":4.7,"y":-21.4,"c":0},{"x":4.9,"y":-21.4,"c":0},
{"x":1.4,"y":-23.2,"c":0},{"x":1.6,"y":-23.2,"c":0},{"x":1.8,"y":-23.2,"c":0},{"x":2,"y":-23.2,"c":0},{"x":2.2,"y":-23.2,"c":0},{"x":2.4,"y":-23.2,"c":0},{"x":2.6,"y":-23.2,"c":0},{"x":2.8,"y":-23.2,"c":0},{"x":3,"y":-23.2,"c":0},{"x":3.2,"y":-23.2,"c":0},{"x":3.4,"y":-23.2,"c":0},{"x":3.6,"y":-23.2,"c":0},{"x":3.8,"y":-23.2,"c":0},{"x":4,"y":-23.2,"c":0},{"x":4.2,"y":-23.2,"c":0},{"x":4.4,"y":-23.2,"c":0},{"x":4.6,"y":-23.2,"c":0},{"x":4.8,"y":-23.2,"c":0},
{"x":1.3,"y":-25,"c":0},{"x":1.5,"y":-25,"c":0},{"x":1.7,"y":-25,"c":0},{"x":1.9,"y":-25,"c":0},{"x":2.1,"y":-25,"c":0},{"x":2.3,"y":-25,"c":0},{"x":2.5,"y":-25,"c":0},{"x":2.7,"y":-25,"c":0},{"x":2.9,"y":-25,"c":0},{"x":3.1,"y":-25,"c":0},{"x":3.3,"y":-25,"c":0},{"x":3.5,"y":-25,"c":0},{"x":3.7,"y":-25,"c":0},{"x":3.9,"y":-25,"c":0},{"x":4.1,"y":-25,"c":0},{"x":4.3,"y":-25,"c":0},{"x":4.5,"y":-25,"c":0},{"x":4.7,"y":-25,"c":0},{"x":4.9,"y":-25,"c":0},
{"x":1.4,"y":-26.8,"c":0},{"x":1.6,"y":-26.8,"c":0},{"x":1.8,"y":-26.8,"c":0},{"x":2,"y":-26.8,"c":0},{"x":2.2,"y":-26.8,"c":0},{"x":2.4,"y":-26.8,"c":0},{"x":2.6,"y":-26.8,"c":0},{"x":2.8,"y":-26.8,"c":0},{"x":3,"y":-26.8,"c":0},{"x":3.2,"y":-26.8,"c":0},{"x":3.4,"y":-26.8,"c":0},{"x":3.6,"y":-26.8,"c":0},{"x":3.8,"y":-26.8,"c":0},{"x":4,"y":-26.8,"c":0},{"x":4.2,"y":-26.8,"c":0},{"x":4.4,"y":-26.8,"c":0},{"x":4.6,"y":-26.8,"c":0},{"x":4.8,"y":-26.8,"c":0},
{"x":0.3,"y":-28.6,"c":0},{"x":0.5,"y":-28.6,"c":0},{"x":0.7,"y":-28.6,"c":0},{"x":0.9,"y":-28.6,"c":0},{"x":1.1,"y":-28.6,"c":0},{"x":1.3,"y":-28.6,"c":0},{"x":1.5,"y":-28.6,"c":0},{"x":1.7,"y":-28.6,"c":0},{"x":1.9,"y":-28.6,"c":0},{"x":2.1,"y":-28.6,"c":0},{"x":2.3,"y":-28.6,"c":0},{"x":2.5,"y":-28.6,"c":0},{"x":2.7,"y":-28.6,"c":0},{"x":2.9,"y":-28.6,"c":0},{"x":3.1,"y":-28.6,"c":0},{"x":3.3,"y":-28.6,"c":0},{"x":3.5,"y":-28.6,"c":0},{"x":3.7,"y":-28.6,"c":0},{"x":3.9,"y":-28.6,"c":0},{"x":4.1,"y":-28.6,"c":0},{"x":4.3,"y":-28.6,"c":0},{"x":4.5,"y":-28.6,"c":0},{"x":4.7,"y":-28.6,"c":0},{"x":4.9,"y":-28.6,"c":0},
{"x":0,"y":-30.4,"c":0},{"x":0.2,"y":-30.4,"c":0},{"x":0.4,"y":-30.4,"c":0},{"x":0.6,"y":-30.4,"c":0},{"x":0.8,"y":-30.4,"c":0},{"x":1,"y":-30.4,"c":0},{"x":1.2,"y":-30.4,"c":0},{"x":1.4,"y":-30.4,"c":0},{"x":1.6,"y":-30.4,"c":0},{"x":1.8,"y":-30.4,"c":0},{"x":2,"y":-30.4,"c":0},{"x":2.2,"y":-30.4,"c":0},{"x":2.4,"y":-30.4,"c":0},{"x":2.6,"y":-30.4,"c":0},{"x":2.8,"y":-30.4,"c":0},{"x":3,"y":-30.4,"c":0},{"x":3.2,"y":-30.4,"c":0},{"x":3.4,"y":-30.4,"c":0},{"x":3.6,"y":-30.4,"c":0},{"x":3.8,"y":-30.4,"c":0},{"x":4,"y":-30.4,"c":0},{"x":4.2,"y":-30.4,"c":0},{"x":4.4,"y":-30.4,"c":0},{"x":4.6,"y":-30.4,"c":0},{"x":4.8,"y":-30.4,"c":0},
{"x":0.5,"y":-32.2,"c":0},{"x":0.7,"y":-32.2,"c":0},{"x":0.9,"y":-32.2,"c":0},{"x":1.1,"y":-32.2,"c":0},{"x":1.3,"y":-32.2,"c":0},{"x":1.5,"y":-32.2,"c":0},{"x":1.7,"y":-32.2,"c":0},{"x":1.9,"y":-32.2,"c":0},{"x":2.1,"y":-32.2,"c":0},{"x":2.3,"y":-32.2,"c":0},{"x":2.5,"y":-32.2,"c":0},{"x":2.7,"y":-32.2,"c":0},{"x":2.9,"y":-32.2,"c":0},{"x":3.1,"y":-32.2,"c":0},{"x":3.3,"y":-32.2,"c":0},{"x":3.5,"y":-32.2,"c":0},{"x":3.7,"y":-32.2,"c":0},{"x":3.9,"y":-32.2,"c":0},{"x":4.1,"y":-32.2,"c":0},{"x":4.3,"y":-32.2,"c":0},{"x":4.5,"y":-32.2,"c":0},{"x":4.7,"y":-32.2,"c":0},{"x":4.9,"y":-32.2,"c":0},
{"x":0.6,"y":-34,"c":0},{"x":0.8,"y":-34,"c":0},{"x":1,"y":-34,"c":0},{"x":1.2,"y":-34,"c":0},{"x":1.4,"y":-34,"c":0},{"x":1.6,"y":-34,"c":0},{"x":1.8,"y":-34,"c":0},{"x":2,"y":-34,"c":0},{"x":2.2,"y":-34,"c":0},{"x":2.4,"y":-34,"c":0},{"x":2.6,"y":-34,"c":0},{"x":2.8,"y":-34,"c":0},{"x":3,"y":-34,"c":0},{"x":3.2,"y":-34,"c":0},{"x":3.4,"y":-34,"c":0},{"x":3.6,"y":-34,"c":0},{"x":3.8,"y":-34,"c":0},{"x":4,"y":-34,"c":0},{"x":4.2,"y":-34,"c":0},{"x":4.4,"y":-34,"c":0},{"x":4.6,"y":-34,"c":0},{"x":4.8,"y":-34,"c":0},
{"x":0.3,"y":-35.8,"c":0},{"x":0.5,"y":-35.8,"c":0},{"x":0.7,"y":-35.8,"c":0},{"x":0.9,"y":-35.8,"c":0},{"x":1.1,"y":-35.8,"c":0},{"x":1.3,"y":-35.8,"c":0},{"x":1.5,"y":-35.8,"c":0},{"x":1.7,"y":-35.8,"c":0},{"x":1.9,"y":-35.8,"c":0},{"x":2.1,"y":-35.8,"c":0},{"x":2.3,"y":-35.8,"c":0},{"x":2.5,"y":-35.8,"c":0},{"x":2.7,"y":-35.8,"c":0},{"x":2.9,"y":-35.8,"c":0},{"x":3.1,"y":-35.8,"c":0},{"x":3.3,"y":-35.8,"c":0},{"x":3.5,"y":-35.8,"c":0},{"x":3.7,"y":-35.8,"c":0},{"x":3.9,"y":-35.8,"c":0},{"x":4.1,"y":-35.8,"c":0},{"x":4.3,"y":-35.8,"c":0},{"x":4.5,"y":-35.8,"c":0},{"x":4.7,"y":-35.8,"c":0},{"x":4.9,"y":-35.8,"c":0},
{"x":0.4,"y":-37.6,"c":0},{"x":0.6,"y":-37.6,"c":0},{"x":0.8,"y":-37.6,"c":0},{"x":1,"y":-37.6,"c":0},{"x":1.2,"y":-37.6,"c":0},{"x":1.4,"y":-37.6,"c":0},{"x":1.6,"y":-37.6,"c":0},{"x":1.8,"y":-37.6,"c":0},{"x":2,"y":-37.6,"c":0},{"x":2.2,"y":-37.6,"c":0},{"x":2.4,"y":-37.6,"c":0},{"x":2.6,"y":-37.6,"c":0},{"x":2.8,"y":-37.6,"c":0},{"x":3,"y":-37.6,"c":0},{"x":3.2,"y":-37.6,"c":0},{"x":3.4,"y":-37.6,"c":0},{"x":3.6,"y":-37.6,"c":0},{"x":3.8,"y":-37.6,"c":0},{"x":4,"y":-37.6,"c":0},{"x":4.2,"y":-37.6,"c":0},{"x":4.4,"y":-37.6,"c":0},{"x":4.6,"y":-37.6,"c":0},{"x":4.8,"y":-37.6,"c":0},
{"x":0.3,"y":-39.4,"c":0},{"x":0.5,"y":-39.4,"c":0},{"x":0.7,"y":-39.4,"c":0},{"x":0.9,"y":-39.4,"c":0},{"x":1.1,"y":-39.4,"c":0},{"x":1.3,"y":-39.4,"c":0},{"x":1.5,"y":-39.4,"c":0},{"x":1.7,"y":-39.4,"c":0},{"x":1.9,"y":-39.4,"c":0},{"x":2.1,"y":-39.4,"c":0},{"x":2.3,"y":-39.4,"c":0},{"x":2.5,"y":-39.4,"c":0},{"x":2.7,"y":-39.4,"c":0},{"x":2.9,"y":-39.4,"c":0},{"x":3.1,"y":-39.4,"c":0},{"x":3.3,"y":-39.4,"c":0},{"x":3.5,"y":-39.4,"c":0},{"x":3.7,"y":-39.4,"c":0},{"x":3.9,"y":-39.4,"c":0},{"x":4.1,"y":-39.4,"c":0},{"x":4.3,"y":-39.4,"c":0},{"x":4.5,"y":-39.4,"c":0},{"x":4.7,"y":-39.4,"c":0},{"x":4.9,"y":-39.4,"c":0},
{"x":0.4,"y":-41.2,"c":0},{"x":0.6,"y":-41.2,"c":0},{"x":0.8,"y":-41.2,"c":0},{"x":1,"y":-41.2,"c":0},{"x":1.2,"y":-41.2,"c":0},{"x":1.4,"y":-41.2,"c":0},{"x":1.6,"y":-41.2,"c":0},{"x":1.8,"y":-41.2,"c":0},{"x":2,"y":-41.2,"c":0},{"x":2.2,"y":-41.2,"c":0},{"x":2.4,"y":-41.2,"c":0},{"x":2.6,"y":-41.2,"c":0},{"x":2.8,"y":-41.2,"c":0},{"x":3,"y":-41.2,"c":0},{"x":3.2,"y":-41.2,"c":0},{"x":3.4,"y":-41.2,"c":0},{"x":3.6,"y":-41.2,"c":0},{"x":3.8,"y":-41.2,"c":0},{"x":4,"y":-41.2,"c":0},{"x":4.2,"y":-41.2,"c":0},{"x":4.4,"y":-41.2,"c":0},{"x":4.6,"y":-41.2,"c":0},{"x":4.8,"y":-41.2,"c":0},
{"x":0.3,"y":-43,"c":0},{"x":0.5,"y":-43,"c":0},{"x":0.7,"y":-43,"c":0},{"x":0.9,"y":-43,"c":0},{"x":1.1,"y":-43,"c":0},{"x":1.3,"y":-43,"c":0},{"x":1.5,"y":-43,"c":0},{"x":1.7,"y":-43,"c":0},{"x":1.9,"y":-43,"c":0},{"x":2.1,"y":-43,"c":0},{"x":2.3,"y":-43,"c":0},{"x":2.5,"y":-43,"c":0},{"x":2.7,"y":-43,"c":0},{"x":2.9,"y":-43,"c":0},{"x":3.1,"y":-43,"c":0},{"x":3.3,"y":-43,"c":0},{"x":3.5,"y":-43,"c":0},{"x":3.7,"y":-43,"c":0},{"x":3.9,"y":-43,"c":0},{"x":4.1,"y":-43,"c":0},{"x":4.3,"y":-43,"c":0},{"x":4.5,"y":-43,"c":0},{"x":4.7,"y":-43,"c":0},{"x":4.9,"y":-43,"c":0},
{"x":0.4,"y":-44.8,"c":0},{"x":0.6,"y":-44.8,"c":0},{"x":0.8,"y":-44.8,"c":0},{"x":1,"y":-44.8,"c":0},{"x":1.2,"y":-44.8,"c":0},{"x":1.4,"y":-44.8,"c":0},{"x":1.6,"y":-44.8,"c":0},{"x":1.8,"y":-44.8,"c":0},{"x":2,"y":-44.8,"c":0},{"x":2.2,"y":-44.8,"c":0},{"x":2.4,"y":-44.8,"c":0},{"x":2.6,"y":-44.8,"c":0},{"x":2.8,"y":-44.8,"c":0},{"x":3,"y":-44.8,"c":0},{"x":3.2,"y":-44.8,"c":0},{"x":3.4,"y":-44.8,"c":0},{"x":3.6,"y":-44.8,"c":0},{"x":3.8,"y":-44.8,"c":0},{"x":4,"y":-44.8,"c":0},{"x":4.2,"y":-44.8,"c":0},{"x":4.4,"y":-44.8,"c":0},{"x":4.6,"y":-44.8,"c":0},{"x":4.8,"y":-44.8,"c":0},
{"x":0.3,"y":-46.6,"c":0},{"x":0.5,"y":-46.6,"c":0},{"x":0.7,"y":-46.6,"c":0},{"x":0.9,"y":-46.6,"c":0},{"x":1.1,"y":-46.6,"c":0},{"x":1.3,"y":-46.6,"c":0},{"x":1.5,"y":-46.6,"c":0},{"x":1.7,"y":-46.6,"c":0},{"x":1.9,"y":-46.6,"c":0},{"x":2.1,"y":-46.6,"c":0},{"x":2.3,"y":-46.6,"c":0},{"x":2.5,"y":-46.6,"c":0},{"x":2.7,"y":-46.6,"c":0},{"x":2.9,"y":-46.6,"c":0},{"x":3.1,"y":-46.6,"c":0},{"x":3.3,"y":-46.6,"c":0},{"x":3.5,"y":-46.6,"c":0},{"x":3.7,"y":-46.6,"c":0},{"x":3.9,"y":-46.6,"c":0},{"x":4.1,"y":-46.6,"c":0},{"x":4.3,"y":-46.6,"c":0},{"x":4.5,"y":-46.6,"c":0},{"x":4.7,"y":-46.6,"c":0},{"x":4.9,"y":-46.6,"c":0},
{"x":0.4,"y":-48.4,"c":0},{"x":0.6,"y":-48.4,"c":0},{"x":0.8,"y":-48.4,"c":0},{"x":1,"y":-48.4,"c":0},{"x":1.2,"y":-48.4,"c":0},{"x":1.4,"y":-48.4,"c":0},{"x":1.6,"y":-48.4,"c":0},{"x":1.8,"y":-48.4,"c":0},{"x":2,"y":-48.4,"c":0},{"x":2.2,"y":-48.4,"c":0},{"x":2.4,"y":-48.4,"c":0},{"x":2.6,"y":-48.4,"c":0},{"x":2.8,"y":-48.4,"c":0},{"x":3,"y":-48.4,"c":0},
{"x":5.1,"y":41.4,"c":21},{"x":5.3,"y":41.4,"c":21},{"x":5.5,"y":41.4,"c":21},{"x":5.7,"y":41.4,"c":21},{"x":6.1,"y":41.4,"c":21},{"x":6.5,"y":41.4,"c":21},
{"x":5.2,"y":39.6,"c":21},{"x":5.4,"y":39.6,"c":21},{"x":5.6,"y":39.6,"c":21},{"x":5.8,"y":39.6,"c":21},{"x":6,"y":39.6,"c":21},{"x":6.2,"y":39.6,"c":21},{"x":6.6,"y":39.6,"c":21},{"x":6.8,"y":39.6,"c":21},
{"x":5.1,"y":37.8,"c":21},{"x":5.3,"y":37.8,"c":21},{"x":5.5,"y":37.8,"c":21},{"x":5.7,"y":37.8,"c":21},{"x":5.9,"y":37.8,"c":21},{"x":6.1,"y":37.8,"c":21},{"x":6.3,"y":37.8,"c":21},{"x":6.7,"y":37.8,"c":21},{"x":6.9,"y":37.8,"c":21},{"x":7.3,"y":37.8,"c":21},
{"x":5.2,"y":36,"c":21},{"x":5.4,"y":36,"c":21},{"x":5.6,"y":36,"c":21},{"x":5.8,"y":36,"c":21},{"x":6,"y":36,"c":21},{"x":6.2,"y":36,"c":21},{"x":6.4,"y":36,"c":21},{"x":6.6,"y":36,"c":21},{"x":6.8,"y":36,"c":21},{"x":7.2,"y":36,"c":21},
{"x":5.1,"y":34.2,"c":21},{"x":5.3,"y":34.2,"c":21},{"x":5.5,"y":34.2,"c":21},{"x":5.7,"y":34.2,"c":21},{"x":5.9,"y":34.2,"c":21},{"x":6.1,"y":34.2,"c":21},{"x":6.3,"y":34.2,"c":21},{"x":6.5,"y":34.2,"c":21},{"x":6.9,"y":34.2,"c":21},{"x":7.1,"y":34.2,"c":21},{"x":7.5,"y":34.2,"c":21},
{"x":5.2,"y":32.4,"c":21},{"x":5.4,"y":32.4,"c":21},{"x":5.6,"y":32.4,"c":21},{"x":5.8,"y":32.4,"c":21},{"x":6,"y":32.4,"c":21},{"x":6.2,"y":32.4,"c":21},{"x":6.4,"y":32.4,"c":21},{"x":6.6,"y":32.4,"c":21},{"x":6.8,"y":32.4,"c":21},{"x":7,"y":32.4,"c":21},{"x":7.6,"y":32.4,"c":21},
{"x":5.1,"y":30.6,"c":21},{"x":5.3,"y":30.6,"c":21},{"x":5.5,"y":30.6,"c":21},{"x":5.7,"y":30.6,"c":21},{"x":5.9,"y":30.6,"c":21},{"x":6.1,"y":30.6,"c":21},{"x":6.3,"y":30.6,"c":21},{"x":6.5,"y":30.6,"c":21},{"x":6.7,"y":30.6,"c":21},{"x":6.9,"y":30.6,"c":21},{"x":7.1,"y":30.6,"c":21},{"x":7.3,"y":30.6,"c":21},
{"x":5.2,"y":28.8,"c":21},{"x":5.4,"y":28.8,"c":21},{"x":5.6,"y":28.8,"c":21},{"x":5.8,"y":28.8,"c":21},{"x":6,"y":28.8,"c":21},{"x":6.2,"y":28.8,"c":21},{"x":6.4,"y":28.8,"c":21},{"x":6.6,"y":28.8,"c":21},{"x":6.8,"y":28.8,"c":21},{"x":7,"y":28.8,"c":21},{"x":7.2,"y":28.8,"c":21},{"x":7.4,"y":28.8,"c":21},{"x":7.8,"y":28.8,"c":21},
{"x":5.1,"y":27,"c":21},{"x":5.3,"y":27,"c":21},{"x":5.5,"y":27,"c":21},{"x":5.7,"y":27,"c":21},{"x":5.9,"y":27,"c":21},{"x":6.1,"y":27,"c":21},{"x":6.3,"y":27,"c":21},{"x":6.5,"y":27,"c":21},{"x":6.7,"y":27,"c":21},{"x":7.1,"y":27,"c":21},
{"x":5.2,"y":25.2,"c":21},{"x":5.4,"y":25.2,"c":21},{"x":5.6,"y":25.2,"c":21},{"x":5.8,"y":25.2,"c":21},{"x":6,"y":25.2,"c":21},{"x":6.2,"y":25.2,"c":21},{"x":6.4,"y":25.2,"c":21},
{"x":5.1,"y":23.4,"c":21},{"x":5.3,"y":23.4,"c":21},{"x":5.5,"y":23.4,"c":21},{"x":5.7,"y":23.4,"c":21},{"x":5.9,"y":23.4,"c":21},{"x":6.3,"y":23.4,"c":21},
{"x":5.2,"y":21.6,"c":21},{"x":5.4,"y":21.6,"c":21},{"x":5.6,"y":21.6,"c":21},
{"x":5.65,"y":57.1,"c":21},{"x":5.8,"y":56.9,"c":21},{"x":6,"y":55.7,"c":21},{"x":6.39,"y":56.5,"c":21},{"x":6.35,"y":55.3,"c":21},{"x":6.66,"y":57.4,"c":21},{"x":6.93,"y":56.5,"c":21},{"x":7,"y":55.3,"c":21},{"x":5.22,"y":55.7,"c":21},{"x":5.3,"y":53.4,"c":21},{"x":5.85,"y":52.7,"c":21},{"x":5.88,"y":51.7,"c":21},{"x":6.7,"y":54.4,"c":21},{"x":6.77,"y":53.6,"c":21},{"x":7.12,"y":53.6,"c":21},{"x":7.55,"y":54.8,"c":21},{"x":7.85,"y":56,"c":21},{"x":8.48,"y":56.5,"c":21},{"x":8.79,"y":57.7,"c":21},{"x":8.44,"y":53,"c":21},{"x":8.48,"y":51.3,"c":21},{"x":8.75,"y":51,"c":21},{"x":9.75,"y":53.4,"c":21},{"x":7.66,"y":49.6,"c":21},{"x":7.9,"y":48.7,"c":21},{"x":7.7,"y":48.2,"c":21},{"x":5.5,"y":49.2,"c":21},{"x":5.62,"y":49,"c":21},{"x":5.1,"y":48.4,"c":21},{"x":5.46,"y":46.5,"c":21},{"x":5.1,"y":46.1,"c":21},{"x":5.77,"y":45.2,"c":21},{"x":5.97,"y":45.6,"c":21},{"x":6.39,"y":46.1,"c":21},{"x":6.5,"y":45.2,"c":21},{"x":6.8,"y":46.1,"c":21},{"x":6.66,"y":44,"c":21},{"x":7.13,"y":44.4,"c":21},{"x":8.43,"y":46.6,"c":21},{"x":8.3,"y":45.6,"c":21},{"x":8.83,"y":44.7,"c":21},{"x":9.13,"y":44.9,"c":21},{"x":9.24,"y":44,"c":21},{"x":9.59,"y":42.6,"c":21},{"x":6.2,"y":44,"c":21},{"x":6,"y":43,"c":21},{"x":8.17,"y":43,"c":21},{"x":8.06,"y":41.8,"c":21},{"x":7.97,"y":40.4,"c":21},{"x":7.63,"y":37,"c":21},{"x":7.85,"y":38.3,"c":21},{"x":7.93,"y":35.4,"c":21},{"x":8.17,"y":37,"c":21},{"x":8.24,"y":34.8,"c":21},{"x":7.85,"y":33.6,"c":21},{"x":8,"y":31.4,"c":21},{"x":8.1,"y":29,"c":21},{"x":7.94,"y":27.9,"c":21},{"x":8.55,"y":32.6,"c":21},{"x":8.63,"y":30.2,"c":21},{"x":8.47,"y":27.9,"c":21},{"x":8.79,"y":33,"c":21},{"x":8.9,"y":36,"c":21},{"x":9.1,"y":37.8,"c":21},{"x":9.37,"y":38.6,"c":21},{"x":9,"y":30.2,"c":21},{"x":9.1,"y":27.9,"c":21},{"x":9.17,"y":32.6,"c":21},{"x":9.36,"y":33.6,"c":21},{"x":9.48,"y":29.6,"c":21},{"x":9.56,"y":36.2,"c":21},{"x":9.8,"y":39.5,"c":21},{"x":9.8,"y":34.3,"c":21},{"x":9.83,"y":29,"c":21},{"x":8.75,"y":35.4,"c":21},{"x":7,"y":40,"c":21},{"x":7.16,"y":38.3,"c":21},{"x":7.24,"y":36,"c":21},{"x":6.85,"y":35.4,"c":21},{"x":7.39,"y":33.6,"c":21},{"x":7.08,"y":31.4,"c":21},{"x":7.55,"y":30.8,"c":21},{"x":7.32,"y":29.1,"c":21},{"x":6.85,"y":27.9,"c":21},{"x":6.62,"y":26.7,"c":21},{"x":6.32,"y":25.6,"c":21},{"x":6.93,"y":23,"c":21},{"x":6.08,"y":23.2,"c":21},{"x":5.7,"y":22.1,"c":21},{"x":5.3,"y":20.9,"c":21},{"x":5.2,"y":53.6,"c":21},{"x":5.1,"y":52.4,"c":21},{"x":5.2,"y":44.4,"c":21},{"x":5.1,"y":43,"c":21},{"x":5.4,"y":42.8,"c":21},{"x":5.3,"y":47.2,"c":21},{"x":5.2,"y":50.2,"c":21},{"x":9.2,"y":35.5,"c":21},{"x":9.4,"y":31,"c":21},{"x":8.4,"y":38.5,"c":21},{"x":9,"y":34.6,"c":21},{"x":9.65,"y":37.4,"c":21},{"x":8.6,"y":29,"c":21},{"x":7.6,"y":27.6,"c":21},{"x":8.3,"y":33.4,"c":21},{"x":7.7,"y":32.2,"c":21},
{"x":5.1,"y":-21.6,"c":21},{"x":5.3,"y":-21.6,"c":21},
{"x":5.2,"y":-23.4,"c":21},{"x":5.4,"y":-23.4,"c":21},{"x":5.6,"y":-23.4,"c":21},{"x":5.8,"y":-23.4,"c":21},{"x":6,"y":-23.4,"c":21},{"x":6.2,"y":-23.4,"c":21},{"x":6.4,"y":-23.4,"c":21},{"x":6.6,"y":-23.4,"c":21},{"x":7,"y":-23.4,"c":21},
{"x":5.1,"y":-25.2,"c":21},{"x":5.3,"y":-25.2,"c":21},{"x":5.5,"y":-25.2,"c":21},{"x":5.7,"y":-25.2,"c":21},{"x":5.9,"y":-25.2,"c":21},{"x":6.1,"y":-25.2,"c":21},{"x":6.3,"y":-25.2,"c":21},{"x":6.5,"y":-25.2,"c":21},{"x":6.7,"y":-25.2,"c":21},{"x":6.9,"y":-25.2,"c":21},{"x":7.1,"y":-25.2,"c":21},{"x":7.3,"y":-25.2,"c":21},{"x":7.5,"y":-25.2,"c":21},{"x":7.9,"y":-25.2,"c":21},
{"x":5.2,"y":-27,"c":21},{"x":5.4,"y":-27,"c":21},{"x":5.6,"y":-27,"c":21},{"x":5.8,"y":-27,"c":21},{"x":6,"y":-27,"c":21},{"x":6.2,"y":-27,"c":21},{"x":6.6,"y":-27,"c":21},{"x":6.8,"y":-27,"c":21},{"x":7,"y":-27,"c":21},{"x":7.2,"y":-27,"c":21},{"x":7.4,"y":-27,"c":21},{"x":7.6,"y":-27,"c":21},{"x":7.8,"y":-27,"c":21},{"x":8,"y":-27,"c":21},{"x":8.2,"y":-27,"c":21},
{"x":5.1,"y":-28.8,"c":21},{"x":5.3,"y":-28.8,"c":21},{"x":5.5,"y":-28.8,"c":21},{"x":5.7,"y":-28.8,"c":21},{"x":5.9,"y":-28.8,"c":21},{"x":6.1,"y":-28.8,"c":21},{"x":6.7,"y":-28.8,"c":21},{"x":6.9,"y":-28.8,"c":21},{"x":7.1,"y":-28.8,"c":21},{"x":7.3,"y":-28.8,"c":21},{"x":7.5,"y":-28.8,"c":21},{"x":7.7,"y":-28.8,"c":21},{"x":8.1,"y":-28.8,"c":21},{"x":8.3,"y":-28.8,"c":21},
{"x":5.2,"y":-30.6,"c":21},{"x":5.4,"y":-30.6,"c":21},{"x":5.6,"y":-30.6,"c":21},{"x":5.8,"y":-30.6,"c":21},{"x":6,"y":-30.6,"c":21},{"x":6.2,"y":-30.6,"c":21},{"x":6.8,"y":-30.6,"c":21},{"x":7,"y":-30.6,"c":21},{"x":7.2,"y":-30.6,"c":21},{"x":7.4,"y":-30.6,"c":21},{"x":8.2,"y":-30.6,"c":21},
{"x":5.1,"y":-32.4,"c":21},{"x":5.3,"y":-32.4,"c":21},{"x":5.5,"y":-32.4,"c":21},{"x":5.7,"y":-32.4,"c":21},{"x":5.9,"y":-32.4,"c":21},{"x":6.1,"y":-32.4,"c":21},{"x":6.3,"y":-32.4,"c":21},{"x":6.5,"y":-32.4,"c":21},{"x":6.9,"y":-32.4,"c":21},{"x":7.3,"y":-32.4,"c":21},
{"x":5.2,"y":-34.2,"c":21},{"x":5.4,"y":-34.2,"c":21},{"x":5.6,"y":-34.2,"c":21},{"x":5.8,"y":-34.2,"c":21},{"x":6,"y":-34.2,"c":21},{"x":6.4,"y":-34.2,"c":21},{"x":6.8,"y":-34.2,"c":21},
{"x":5.1,"y":-36,"c":21},{"x":5.3,"y":-36,"c":21},{"x":5.5,"y":-36,"c":21},{"x":5.7,"y":-36,"c":21},{"x":5.9,"y":-36,"c":21},{"x":6.1,"y":-36,"c":21},
{"x":5.2,"y":-37.8,"c":21},{"x":5.4,"y":-37.8,"c":21},
{"x":5.38,"y":-21.3,"c":21},{"x":5.77,"y":-23,"c":21},{"x":6.04,"y":-21,"c":21},{"x":6.27,"y":-21.6,"c":21},{"x":6.77,"y":-21.9,"c":21},{"x":7.2,"y":-22.5,"c":21},{"x":7,"y":-23.7,"c":21},{"x":8.53,"y":-22.2,"c":21},{"x":8.9,"y":-23.9,"c":21},{"x":9.13,"y":-24.8,"c":21},{"x":8.48,"y":-25.4,"c":21},{"x":9.17,"y":-26.5,"c":21},{"x":8.87,"y":-28,"c":21},{"x":9.22,"y":-29.1,"c":21},{"x":8.83,"y":-30.3,"c":21},{"x":9,"y":-32,"c":21},{"x":9.17,"y":-32.4,"c":21},{"x":9.48,"y":-32.6,"c":21},{"x":9.64,"y":-31.1,"c":21},{"x":9.75,"y":-32,"c":21},{"x":9.56,"y":-34,"c":21},{"x":9.25,"y":-35.8,"c":21},{"x":9.7,"y":-35.8,"c":21},{"x":7.78,"y":-23.7,"c":21},{"x":8.13,"y":-24.5,"c":21},{"x":7.72,"y":-25.4,"c":21},{"x":8.52,"y":-28,"c":21},{"x":8.55,"y":-31.1,"c":21},{"x":8.17,"y":-34,"c":21},{"x":8.06,"y":-32,"c":21},{"x":7.76,"y":-30.6,"c":21},{"x":6.5,"y":-38.6,"c":21},{"x":7,"y":-38.1,"c":21},{"x":7.2,"y":-39,"c":21},{"x":6.2,"y":-37.5,"c":21},{"x":5.85,"y":-38,"c":21},{"x":5.6,"y":-38.6,"c":21},{"x":5.1,"y":-40.4,"c":21},{"x":5.1,"y":-43.6,"c":21},{"x":5.07,"y":-47.1,"c":21},{"x":5.61,"y":-41.6,"c":21},{"x":5.96,"y":-42.1,"c":21},{"x":5.8,"y":-42.8,"c":21},{"x":5.54,"y":-44.5,"c":21},{"x":5.85,"y":-44.8,"c":21},{"x":5.61,"y":-46.4,"c":21},{"x":5.85,"y":-46.4,"c":21},{"x":8.4,"y":-26.6,"c":21},{"x":8.6,"y":-29.6,"c":21},{"x":7.6,"y":-32.6,"c":21},{"x":8.3,"y":-22.8,"c":21},
{"x":5.1,"y":17.4,"c":60},{"x":5.3,"y":17.4,"c":60},{"x":5.5,"y":17.4,"c":60},{"x":5.7,"y":17.4,"c":60},{"x":5.9,"y":17.4,"c":60},{"x":6.1,"y":17.4,"c":60},{"x":6.3,"y":17.4,"c":60},{"x":6.5,"y":17.4,"c":60},{"x":6.9,"y":17.4,"c":60},{"x":7.3,"y":17.4,"c":60},
{"x":5.2,"y":15.6,"c":60},{"x":5.4,"y":15.6,"c":60},{"x":5.6,"y":15.6,"c":60},{"x":5.8,"y":15.6,"c":60},{"x":6,"y":15.6,"c":60},{"x":6.2,"y":15.6,"c":60},{"x":6.4,"y":15.6,"c":60},{"x":6.6,"y":15.6,"c":60},{"x":6.8,"y":15.6,"c":60},{"x":7,"y":15.6,"c":60},{"x":7.2,"y":15.6,"c":60},{"x":7.4,"y":15.6,"c":60},{"x":7.6,"y":15.6,"c":60},{"x":8,"y":15.6,"c":60},
{"x":5.1,"y":13.8,"c":60},{"x":5.3,"y":13.8,"c":60},{"x":5.5,"y":13.8,"c":60},{"x":5.7,"y":13.8,"c":60},{"x":5.9,"y":13.8,"c":60},{"x":6.1,"y":13.8,"c":60},{"x":6.3,"y":13.8,"c":60},{"x":6.5,"y":13.8,"c":60},{"x":6.9,"y":13.8,"c":60},{"x":7.1,"y":13.8,"c":60},{"x":7.3,"y":13.8,"c":60},
{"x":5.2,"y":12,"c":60},{"x":5.4,"y":12,"c":60},{"x":5.6,"y":12,"c":60},{"x":5.8,"y":12,"c":60},{"x":6,"y":12,"c":60},{"x":6.2,"y":12,"c":60},{"x":6.4,"y":12,"c":60},{"x":6.8,"y":12,"c":60},{"x":7,"y":12,"c":60},{"x":7.2,"y":12,"c":60},
{"x":5.1,"y":10.2,"c":60},{"x":5.3,"y":10.2,"c":60},{"x":5.5,"y":10.2,"c":60},{"x":5.7,"y":10.2,"c":60},{"x":5.9,"y":10.2,"c":60},{"x":6.1,"y":10.2,"c":60},{"x":6.3,"y":10.2,"c":60},{"x":6.5,"y":10.2,"c":60},{"x":6.9,"y":10.2,"c":60},
{"x":5.2,"y":8.4,"c":60},{"x":5.4,"y":8.4,"c":60},{"x":5.6,"y":8.4,"c":60},{"x":5.8,"y":8.4,"c":60},{"x":6,"y":8.4,"c":60},{"x":6.2,"y":8.4,"c":60},{"x":6.4,"y":8.4,"c":60},{"x":6.6,"y":8.4,"c":60},{"x":6.8,"y":8.4,"c":60},
{"x":5.1,"y":6.6,"c":60},{"x":5.3,"y":6.6,"c":60},{"x":5.5,"y":6.6,"c":60},{"x":5.7,"y":6.6,"c":60},{"x":5.9,"y":6.6,"c":60},{"x":6.1,"y":6.6,"c":60},{"x":6.3,"y":6.6,"c":60},{"x":6.5,"y":6.6,"c":60},
{"x":5.2,"y":4.8,"c":60},{"x":5.4,"y":4.8,"c":60},{"x":5.6,"y":4.8,"c":60},{"x":5.8,"y":4.8,"c":60},{"x":6,"y":4.8,"c":60},{"x":6.4,"y":4.8,"c":60},
{"x":5.1,"y":3,"c":60},{"x":5.3,"y":3,"c":60},{"x":5.5,"y":3,"c":60},{"x":5.7,"y":3,"c":60},{"x":5.9,"y":3,"c":60},{"x":6.1,"y":3,"c":60},
{"x":5.2,"y":1.2,"c":60},{"x":5.4,"y":1.2,"c":60},{"x":5.6,"y":1.2,"c":60},{"x":5.8,"y":1.2,"c":60},{"x":6,"y":1.2,"c":60},{"x":6.4,"y":1.2,"c":60},
{"x":5.1,"y":-0.6,"c":60},{"x":5.3,"y":-0.6,"c":60},{"x":5.5,"y":-0.6,"c":60},
{"x":5.2,"y":-4.2,"c":60},{"x":5.4,"y":-4.2,"c":60},{"x":5.6,"y":-4.2,"c":60},{"x":5.8,"y":-4.2,"c":60},{"x":6,"y":-4.2,"c":60},{"x":6.2,"y":-4.2,"c":60},
{"x":5.1,"y":-6,"c":60},{"x":5.3,"y":-6,"c":60},{"x":5.5,"y":-6,"c":60},{"x":5.7,"y":-6,"c":60},{"x":5.9,"y":-6,"c":60},{"x":6.1,"y":-6,"c":60},{"x":6.3,"y":-6,"c":60},
{"x":5.2,"y":-7.8,"c":60},{"x":5.4,"y":-7.8,"c":60},{"x":5.6,"y":-7.8,"c":60},{"x":5.8,"y":-7.8,"c":60},{"x":6,"y":-7.8,"c":60},{"x":6.2,"y":-7.8,"c":60},{"x":6.6,"y":-7.8,"c":60},
{"x":5.1,"y":-9.6,"c":60},{"x":5.3,"y":-9.6,"c":60},{"x":5.5,"y":-9.6,"c":60},{"x":5.7,"y":-9.6,"c":60},{"x":5.9,"y":-9.6,"c":60},{"x":6.1,"y":-9.6,"c":60},
{"x":5.2,"y":-11.4,"c":60},{"x":5.4,"y":-11.4,"c":60},{"x":5.6,"y":-11.4,"c":60},{"x":5.8,"y":-11.4,"c":60},{"x":6,"y":-11.4,"c":60},{"x":6.4,"y":-11.4,"c":60},
{"x":5.1,"y":-13.2,"c":60},{"x":5.3,"y":-13.2,"c":60},{"x":5.5,"y":-13.2,"c":60},{"x":5.7,"y":-13.2,"c":60},{"x":5.9,"y":-13.2,"c":60},{"x":6.1,"y":-13.2,"c":60},{"x":6.3,"y":-13.2,"c":60},
{"x":5.2,"y":-15,"c":60},{"x":5.4,"y":-15,"c":60},{"x":5.6,"y":-15,"c":60},{"x":5.8,"y":-15,"c":60},{"x":6,"y":-15,"c":60},
{"x":5.1,"y":-16.8,"c":60},{"x":5.3,"y":-16.8,"c":60},{"x":5.5,"y":-16.8,"c":60},{"x":6.1,"y":-16.8,"c":60},
{"x":6.3,"y":20.1,"c":60},{"x":6.73,"y":19.8,"c":60},{"x":7.36,"y":18.7,"c":60},{"x":7.63,"y":17.1,"c":60},{"x":8.06,"y":17.1,"c":60},{"x":8.4,"y":16.3,"c":60},{"x":8.55,"y":15.4,"c":60},{"x":9.22,"y":16.6,"c":60},{"x":9.48,"y":16.4,"c":60},{"x":9.83,"y":16.2,"c":60},{"x":10.17,"y":16.4,"c":60},{"x":9,"y":13.6,"c":60},{"x":9.22,"y":13.4,"c":60},{"x":8.48,"y":12.3,"c":60},{"x":8.24,"y":8.4,"c":60},{"x":8.52,"y":6.2,"c":60},{"x":7.78,"y":6.2,"c":60},{"x":8.06,"y":4.1,"c":60},{"x":7.48,"y":3.9,"c":60},{"x":7.9,"y":1.3,"c":60},{"x":8.9,"y":0.9,"c":60},{"x":6.69,"y":1.3,"c":60},{"x":7.2,"y":0.5,"c":60},{"x":6.97,"y":-1.1,"c":60},{"x":7.32,"y":-5.1,"c":60},{"x":6.62,"y":-9.8,"c":60},{"x":6.8,"y":-9.4,"c":60},{"x":7.2,"y":-8.9,"c":60},{"x":7.63,"y":-8.6,"c":60},{"x":7.78,"y":-7.7,"c":60},{"x":8.48,"y":-8.6,"c":60},{"x":7.08,"y":-12,"c":60},{"x":7.63,"y":-13.8,"c":60},{"x":7.24,"y":-14.3,"c":60},{"x":6.85,"y":-14.3,"c":60},{"x":8.06,"y":-15,"c":60},{"x":7.73,"y":-16.7,"c":60},{"x":8.48,"y":-14.1,"c":60},{"x":6.73,"y":-17.8,"c":60},{"x":5.8,"y":-18.5,"c":60},{"x":5.07,"y":-18.1,"c":60},{"x":7.39,"y":15.2,"c":60},{"x":7.93,"y":14,"c":60},{"x":7.63,"y":11.7,"c":60},{"x":7.32,"y":7.6,"c":60},{"x":7.39,"y":9,"c":60},{"x":7,"y":5.3,"c":60},{"x":6.46,"y":3.6,"c":60},{"x":5.65,"y":-1.6,"c":60},{"x":5.15,"y":-2.2,"c":60},{"x":5.92,"y":-2,"c":60},{"x":5.5,"y":18.9,"c":60},{"x":5.9,"y":19.3,"c":60},{"x":7.1,"y":18.4,"c":60},{"x":7.8,"y":15.8,"c":60},{"x":6.8,"y":-12.5,"c":60},{"x":6.5,"y":-16,"c":60},{"x":5.4,"y":-17.9,"c":60},
{"x":10.03,"y":37.8,"c":30},{"x":10.33,"y":37.8,"c":30},{"x":10.53,"y":38,"c":30},{"x":10.95,"y":38.8,"c":30},{"x":10.84,"y":36.2,"c":30},{"x":11.07,"y":36.2,"c":30},{"x":11.5,"y":37.1,"c":30},{"x":11.38,"y":35.2,"c":30},{"x":11.68,"y":35.4,"c":30},{"x":11.15,"y":34.3,"c":30},{"x":10.1,"y":34.3,"c":30},{"x":12.3,"y":36,"c":30},{"x":10.45,"y":32.6,"c":30},{"x":10.87,"y":32.6,"c":30},{"x":11.22,"y":31.7,"c":30},{"x":11.19,"y":30.5,"c":30},{"x":11.65,"y":31.4,"c":30},{"x":12.03,"y":31.4,"c":30},{"x":10.03,"y":30.5,"c":30},{"x":10.17,"y":27.9,"c":30},{"x":11.42,"y":28.2,"c":30},{"x":11.68,"y":28.2,"c":30},{"x":12.66,"y":30.2,"c":30},{"x":12.19,"y":23.5,"c":30},{"x":13.4,"y":39.2,"c":30},{"x":13.75,"y":38.3,"c":30},{"x":13.98,"y":38.1,"c":30},{"x":14.28,"y":36.9,"c":30},{"x":14.67,"y":36.6,"c":30},{"x":14.75,"y":34.3,"c":30},{"x":13.86,"y":34.5,"c":30},{"x":14.05,"y":30.8,"c":30},{"x":15.37,"y":37.3,"c":30},{"x":17.88,"y":36.4,"c":30},{"x":10.03,"y":51.8,"c":30},{"x":10.33,"y":54.2,"c":30},{"x":12,"y":52.2,"c":30},{"x":10.3,"y":-28,"c":30},{"x":10.64,"y":-28.3,"c":30},{"x":10.53,"y":-30.8,"c":30},{"x":11.38,"y":-28.3,"c":30},{"x":13.4,"y":-27.4,"c":30},{"x":14.28,"y":-27.4,"c":30},{"x":9.95,"y":36.9,"c":30},{"x":10.2,"y":37.2,"c":30},{"x":10.65,"y":37.6,"c":30}
]},
"mark": {"type": "circle", "size": 160, "opacity": 1},
"encoding": {
  "x": {"field": "x", "type": "quantitative", "scale": {"domain": [0, 18], "nice": false, "zero": false}, "axis": {"values": [0, 2, 4, 6, 8, 10, 12, 14, 16, 18], "title": "Vertical Wind Shear (ms⁻¹)", "titleY": 72, "titleBaseline": "alphabetic", "labelPadding": 21}},
  "y": {"field": "y", "type": "quantitative", "scale": {"domain": [-60, 60], "nice": false, "zero": false}, "axis": {"values": [-60, -40, -20, 0, 20, 40, 60], "title": "Latitude", "titleX": -50, "titleBaseline": "alphabetic", "labelPadding": 15}},
  "color": {"field": "c", "type": "quantitative", "scale": {"domain": [0, 7.5, 22.5, 37.5, 52.5, 60], "range": ["#00008f", "#0000ff", "#00ffff", "#ffff00", "#ff0000", "#800000"], "interpolate": "rgb"},
    "legend": {"orient": "none", "legendX": 804, "legendY": -1, "direction": "vertical", "gradientLength": 692, "gradientThickness": 40, "values": [0, 10, 20, 30, 40, 50, 60], "title": null, "labelFont": "Liberation Sans", "labelFontSize": 17, "labelColor": "#222222", "labelOffset": 6, "labelOverlap": false, "labelBaseline": "middle", "gradientStrokeColor": "#555555", "gradientStrokeWidth": 1}}
}
}
